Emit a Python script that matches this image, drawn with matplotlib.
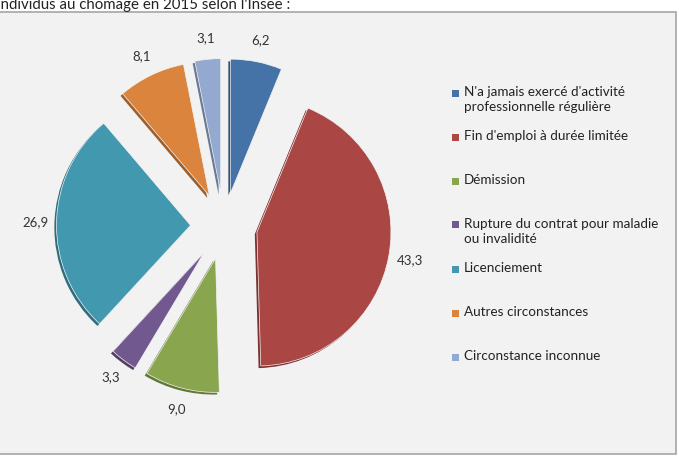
import matplotlib
matplotlib.use("Agg")
import matplotlib.pyplot as plt
import matplotlib.patches as mpatches
import matplotlib.colors as mcolors

# ── Data ───────────────────────────────────────────────────────────────────────

categories = [
    "N'a jamais exercé d'activité\nprofessionnelle régulière",
    "Fin d'emploi à durée limitée",
    "Démission",
    "Rupture du contrat pour maladie\nou invalidité",
    "Licenciement",
    "Autres circonstances",
    "Circonstance inconnue",
]
values = [6.2, 43.3, 9.0, 3.3, 26.9, 8.1, 3.1]
value_labels = ["6,2", "43,3", "9,0", "3,3", "26,9", "8,1", "3,1"]

COLORS = ["#4572a7", "#aa4643", "#89a54e", "#71588f", "#4198af", "#db843d", "#93a9cf"]
BG = "#f2f2f2"
FONT = ["Lato", "DejaVu Sans"]

W, H = 679, 463
fig = plt.figure(figsize=(W / 100, H / 100), dpi=100)
fig.patch.set_facecolor("white")

# chart frame
fig.patches.append(mpatches.Rectangle((-2 / W, (H - 454) / H), 678 / W, 442 / H,
                                      transform=fig.transFigure, facecolor=BG,
                                      edgecolor="#a6a6a6", linewidth=1.2, zorder=-5))

# cut-off heading above the chart
fig.text(-3 / W, 1 - 9 / H, "individus au chômage en 2015 selon l'Insee :",
         fontsize=10.8, family=FONT, color="#222222", va="baseline", ha="left")

# ── Pie ────────────────────────────────────────────────────────────────────────

cx, cy, R = 224, 226, 134
half = 1.5 * R
ax = fig.add_axes([(cx - half) / W, (H - cy - half) / H, 2 * half / W, 2 * half / H])
ax.set_zorder(2)
ax.patch.set_visible(False)

explode = [0.25] * len(values)

# darker copy slightly offset, for the bevel / depth look
dark = [tuple(c * 0.72 for c in mcolors.to_rgb(col)) for col in COLORS]
ax.pie(values, colors=dark, startangle=90, counterclock=False, explode=explode,
       radius=1, center=(-0.016, -0.016), frame=True,
       wedgeprops=dict(linewidth=0))

wedges, texts = ax.pie(values, colors=COLORS, startangle=90, counterclock=False,
                       explode=explode, radius=1, labels=value_labels,
                       labeldistance=1.16, frame=True,
                       wedgeprops=dict(linewidth=0.5, edgecolor="#f4f4f4"),
                       textprops=dict(fontsize=9.5, family=FONT, color="#333333"))
for t in texts:
    t.set_ha("center")
    t.set_va("center")

ax.set_xlim(-1.5, 1.5)
ax.set_ylim(-1.5, 1.5)
ax.set_aspect("equal")
ax.axis("off")

# ── Legend ─────────────────────────────────────────────────────────────────────

for i, (lab, col) in enumerate(zip(categories, COLORS)):
    y = 93 + 44 * i
    fig.patches.append(mpatches.Rectangle((452 / W, (H - y - 3.5) / H), 7 / W, 7 / H,
                                          transform=fig.transFigure, facecolor=col,
                                          edgecolor="none", zorder=3))
    fig.text(464 / W, 1 - (y - 7) / H, lab, fontsize=9.7, family=FONT,
             color="#222222", va="top", ha="left", linespacing=1.3)

fig.savefig("out.png", dpi=100, facecolor=fig.get_facecolor())
